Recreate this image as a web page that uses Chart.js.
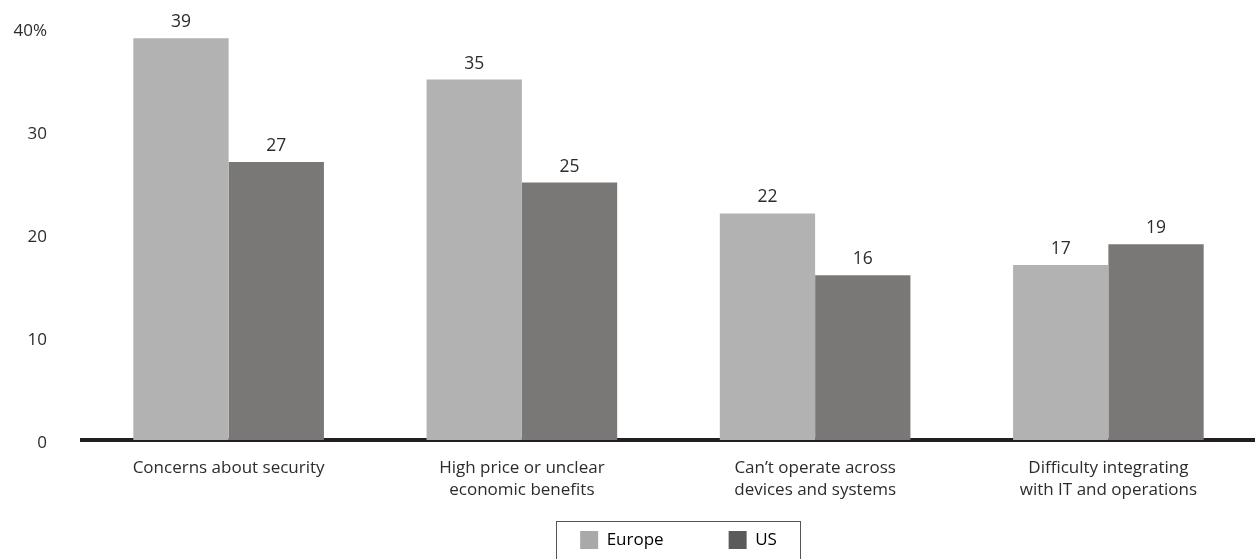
<!DOCTYPE html>
<html>
<head>
<meta charset="utf-8">
<script src="https://cdn.jsdelivr.net/npm/chart.js@4/dist/chart.umd.min.js"></script>
<style>
  html, body { margin: 0; padding: 0; background: #fff; }
  #wrap { width: 1255px; height: 559px; position: relative; }
</style>
</head>
<body>
<div id="wrap"><canvas id="myChart"></canvas></div>
<script>
const categories = [
  "Concerns about security",
  ["High price or unclear", "economic benefits"],
  ["Can\u2019t operate across", "devices and systems"],
  ["Difficulty integrating", "with IT and operations"]
];
const europeValues = [39, 35, 22, 17];
const usValues = [27, 25, 16, 19];
const yTicks = [0, 10, 20, 30, 40];

const textColor = "#2e2b2c";
const fontFamily = "'Open Sans', sans-serif";

// numbers above each bar
const valueLabels = {
  id: "valueLabels",
  afterDatasetsDraw(chart) {
    const ctx = chart.ctx;
    ctx.save();
    ctx.fillStyle = textColor;
    ctx.font = "17.5px " + fontFamily;
    ctx.textAlign = "center";
    ctx.textBaseline = "alphabetic";
    chart.data.datasets.forEach((ds, i) => {
      chart.getDatasetMeta(i).data.forEach((bar, j) => {
        ctx.fillText(ds.data[j], bar.x, bar.y - 11);
      });
    });
    ctx.restore();
  }
};

// nudge the legend right a bit and draw a box round it
const legendBox = {
  id: "legendBox",
  beforeDraw(chart) {
    const lg = chart.legend;
    if (lg._nudged) return;
    lg.left += 10;
    lg.right += 10;
    lg.legendHitBoxes.forEach(b => { b.left += 10; });
    lg._nudged = true;
  },
  afterDraw(chart) {
    const lg = chart.legend;
    const ctx = chart.ctx;
    const first = lg.legendHitBoxes[0];
    ctx.save();
    ctx.strokeStyle = "#555";
    ctx.lineWidth = 1;
    ctx.strokeRect(Math.round(first.left) - 23.5, lg.top + 2.5, 244, 60);
    ctx.restore();
  }
};

const legendColors = ["#a9a9a9", "#5a5a5a"];

var ctx = document.getElementById('myChart').getContext('2d');
var chart = new Chart(ctx, {
  type: 'bar',
  data: {
    labels: categories,
    datasets: [{
      label: 'Europe',
      backgroundColor: '#b2b2b2',
      data: europeValues
    }, {
      label: 'US',
      backgroundColor: '#7a7876',
      data: usValues
    }]
  },
  options: {
    responsive: true,
    maintainAspectRatio: false,
    animation: false,
    layout: { padding: { top: 28, left: 0, right: 0, bottom: 0 } },
    datasets: {
      bar: { barPercentage: 1, categoryPercentage: 0.65 }
    },
    scales: {
      x: {
        grid: { display: false, drawTicks: false },
        border: { display: true, color: '#231f20', width: 4 },
        afterFit(axis) { axis.height = 79; },
        ticks: {
          color: textColor,
          font: { family: fontFamily, size: 17, lineHeight: 1.3 },
          padding: 17,
          maxRotation: 0
        }
      },
      y: {
        min: 0,
        max: 40,
        afterBuildTicks(axis) {
          axis.ticks = yTicks.map(v => ({ value: v }));
        },
        afterFit(axis) {
          axis.width = 82;
          axis.paddingTop = 5;
          axis.paddingBottom = 5;
        },
        grid: { display: false, drawTicks: false },
        border: { display: false },
        ticks: {
          color: textColor,
          font: { family: fontFamily, size: 17 },
          padding: 35,
          labelOffset: 3,
          callback: v => v === 40 ? '40%' : v
        }
      }
    },
    plugins: {
      tooltip: { enabled: false },
      legend: {
        position: 'bottom',
        fullSize: false,
        labels: {
          color: textColor,
          font: { family: fontFamily, size: 17 },
          boxWidth: 18,
          boxHeight: 18,
          padding: 12,
          generateLabels(chart) {
            return chart.data.datasets.map((ds, i) => ({
              text: ds.label + (i === 0 ? '            ' : ''),
              fillStyle: legendColors[i],
              strokeStyle: legendColors[i],
              lineWidth: 0,
              datasetIndex: i
            }));
          }
        }
      }
    }
  },
  plugins: [valueLabels, legendBox]
});
</script>
</body>
</html>
